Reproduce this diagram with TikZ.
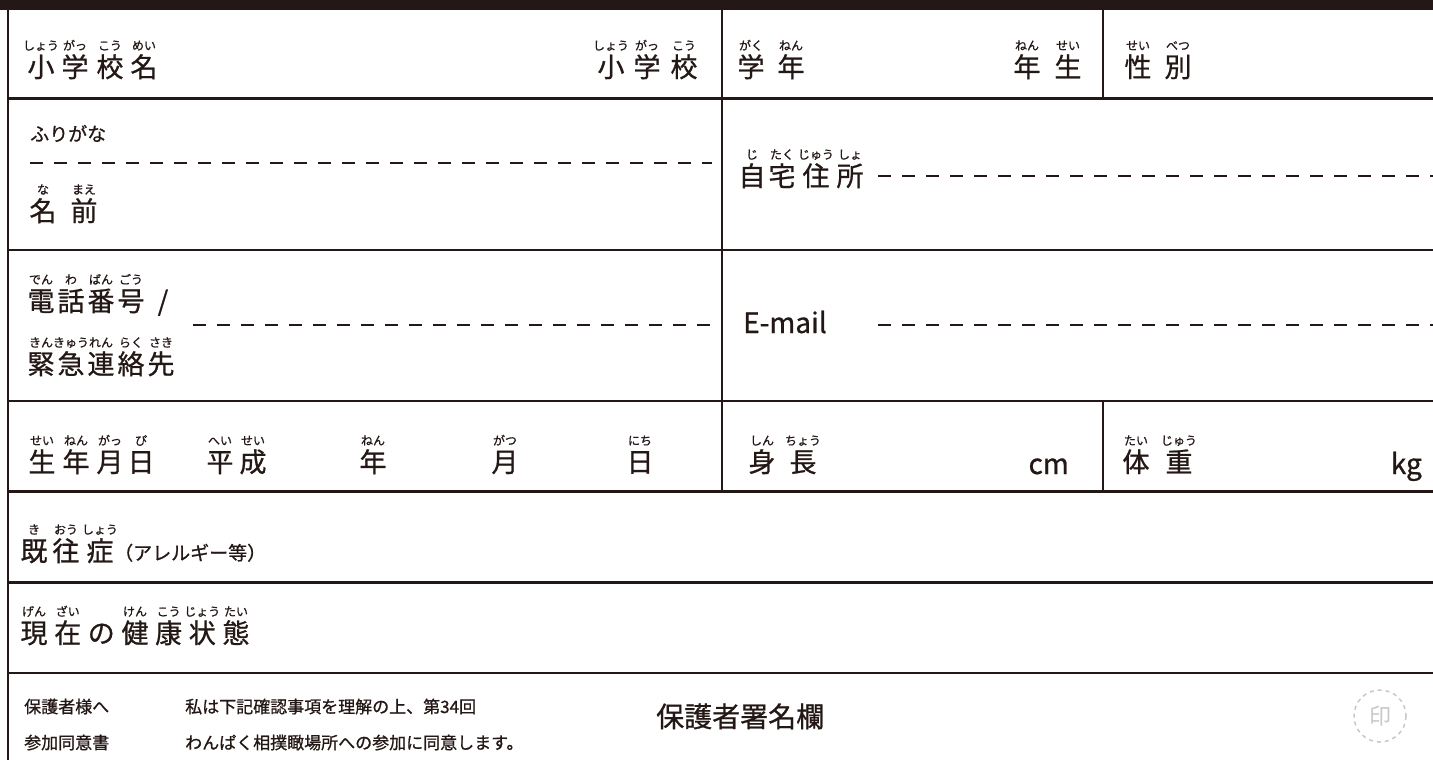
\documentclass[tikz,border=0pt]{standalone}
\usepackage{fontspec}
\setmainfont{Noto Sans CJK JP}[FakeBold=0.8]
\newfontfamily\stampfont{Noto Sans CJK JP}
\definecolor{ink}{RGB}{35,24,21}
\definecolor{stampgray}{RGB}{200,200,200}
\newcounter{rbn}
\newcommand{\rbk}[4]{\stepcounter{rbn}%
  \node[kj] (k\arabic{rbn}) at (#1,#2+10) {#3};%
  \node[rb] (r\arabic{rbn}) at (#1,#2-17) {#4};}
\begin{document}
\begin{tikzpicture}[x=1pt,y=-1pt,
  frame/.style={draw=ink,line width=2.5pt},
  dashln/.style={draw=ink,line width=2pt,dash pattern=on 13pt off 11pt},
  kj/.style={anchor=base,inner sep=0pt,font=\fontsize{27}{27}\selectfont,text=ink},
  rb/.style={anchor=base,inner sep=0pt,font=\fontsize{12}{12}\selectfont,text=ink},
  lbl/.style={anchor=base west,inner sep=0pt,font=\fontsize{19}{19}\selectfont,text=ink},
  small/.style={anchor=base west,inner sep=0pt,font=\fontsize{17}{17}\selectfont,text=ink},
  latin/.style={inner sep=0pt,font=\fontsize{28}{28}\selectfont,text=ink}]
\useasboundingbox (0,0) rectangle (1433,760);
\fill[white] (0,0) rectangle (1433,760);
% frame
\fill[ink] (0,0) rectangle (1433,10);
\draw[frame] (8,10) -- (8,760);
\foreach \yy in {98.5,250,401,491.5,582.5,673}{\draw[frame] (8,\yy) -- (1433,\yy);}
\draw[frame] (722,10) -- (722,491.5);
\draw[frame] (1103,10) -- (1103,98.5);
\draw[frame] (1103,401) -- (1103,491.5);
% row 1
\rbk{41}{67}{小}{しょう}
\rbk{75}{67}{学}{がっ}
\rbk{110}{67}{校}{こう}
\rbk{144}{67}{名}{めい}
\rbk{611}{67}{小}{しょう}
\rbk{647}{67}{学}{がっ}
\rbk{684}{67}{校}{こう}
\rbk{751}{67}{学}{がく}
\rbk{791}{67}{年}{ねん}
\rbk{1027}{67}{年}{ねん}
\rbk{1068}{67}{生}{せい}
\rbk{1138}{67}{性}{せい}
\rbk{1178}{67}{別}{べつ}
% row 2
\node[lbl] (furigana) at (30,141) {ふりがな};
\draw[dashln] (30,163) -- (712,163);
\rbk{43}{211}{名}{な}
\rbk{84}{211}{前}{まえ}
\rbk{752}{176}{自}{じ}
\rbk{782}{176}{宅}{たく}
\rbk{816}{176}{住}{じゅう}
\rbk{850}{176}{所}{しょ}
\draw[dashln] (878,176) -- (1433,176);
% row 3
\rbk{41}{301}{電}{でん}
\rbk{71}{301}{話}{わ}
\rbk{101}{301}{番}{ばん}
\rbk{131}{301}{号}{ごう}
\node[kj] (slash) at (163,311) {/};
\rbk{41}{364}{緊}{きん}
\rbk{71}{364}{急}{きゅう}
\rbk{101}{364}{連}{れん}
\rbk{131}{364}{絡}{らく}
\rbk{161}{364}{先}{さき}
\draw[dashln] (193,325) -- (712,325);
\node[latin,anchor=base west] (email) at (743,333) {E-mail};
\draw[dashln] (878,325) -- (1433,325);
% row 4
\rbk{42}{462}{生}{せい}
\rbk{76}{462}{年}{ねん}
\rbk{110}{462}{月}{がっ}
\rbk{141}{462}{日}{ぴ}
\rbk{220}{462}{平}{へい}
\rbk{253}{462}{成}{せい}
\rbk{373}{462}{年}{ねん}
\rbk{505}{462}{月}{がつ}
\rbk{640}{462}{日}{にち}
\rbk{762}{462}{身}{しん}
\rbk{803}{462}{長}{ちょう}
\node[latin,anchor=base east] (cm) at (1069,474) {cm};
\rbk{1136}{462}{体}{たい}
\rbk{1179}{462}{重}{じゅう}
\node[latin,anchor=base east] (kg) at (1422,474) {kg};
% row 5
\rbk{34}{551}{既}{き}
\rbk{66}{551}{往}{おう}
\rbk{100}{551}{症}{しょう}
\node[anchor=base west,inner sep=0pt,font=\fontsize{19}{19}\selectfont,text=ink] (allergy) at (114,560) {（アレルギー等）};
% row 6
\rbk{34}{633}{現}{げん}
\rbk{67.7}{633}{在}{ざい}
\node[kj] (no) at (101.3,643) {の};
\rbk{135}{633}{健}{けん}
\rbk{168.7}{633}{康}{こう}
\rbk{202.3}{633}{状}{じょう}
\rbk{236}{633}{態}{たい}
% row 7
\node[small] (g1) at (24,713) {保護者様へ};
\node[small] (g2) at (24,749) {参加同意書};
\node[small] (c1) at (185,713) {私は下記確認事項を理解の上、第34回};
\node[small] (c2) at (185,749) {わんぱく相撲瞰場所への参加に同意します。};
\node[anchor=base west,inner sep=0pt,font=\fontsize{28}{28}\selectfont,text=ink] (sig) at (656,727) {保護者署名欄};
\draw[stampgray,line width=1.5pt,dash pattern=on 4pt off 4pt] (1380,716) circle (26);
\node[inner sep=0pt,font=\stampfont\fontsize{22}{22}\selectfont,text=stampgray] (stamp) at (1380,716) {印};
\end{tikzpicture}
\end{document}
